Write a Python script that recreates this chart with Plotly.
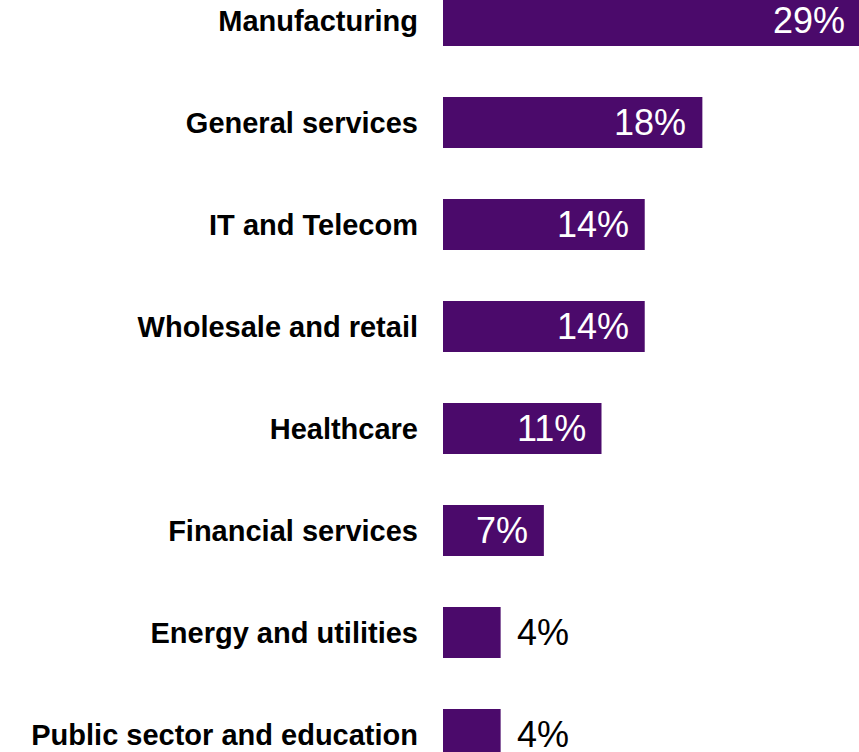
import plotly.graph_objects as go

# Share of respondents by industry
industries = [
    "Manufacturing",
    "General services",
    "IT and Telecom",
    "Wholesale and retail",
    "Healthcare",
    "Financial services",
    "Energy and utilities",
    "Public sector and education",
]
shares = [29, 18, 14, 14, 11, 7, 4, 4]
labels = [f"{v}%" for v in shares]

BAR_COLOR = "#4b0a6b"
FONT = "Liberation Sans, Arial, sans-serif"
X_MAX = 28.87

fig = go.Figure(
    go.Bar(
        x=shares,
        y=industries,
        orientation="h",
        width=0.5,
        marker=dict(color=BAR_COLOR, line=dict(width=0)),
        hoverinfo="skip",
    )
)

# Value labels: inside the bar end when there is room, just outside otherwise.
# Horizontal position is given in paper units so a bar running past the
# axis end still gets its label.
for name, v, lab in zip(industries, shares, labels):
    inside = v >= 6
    fig.add_annotation(
        x=v / X_MAX,
        xref="paper",
        y=name,
        yref="y",
        text=lab,
        showarrow=False,
        xanchor="right" if inside else "left",
        yanchor="middle",
        xshift=-14 if inside else 14,
        font=dict(family=FONT, size=36, color="white" if inside else "black"),
    )

fig.update_layout(
    width=859,
    height=752,
    margin=dict(l=443, r=0, t=0, b=0),
    paper_bgcolor="white",
    plot_bgcolor="white",
    showlegend=False,
    bargap=0.5,
)
fig.update_xaxes(
    range=[0, X_MAX],
    visible=False,
    showgrid=False,
    zeroline=False,
)
fig.update_yaxes(
    categoryorder="array",
    categoryarray=industries,
    range=[7.172, -0.201],
    showgrid=False,
    zeroline=False,
    showline=False,
    ticks="",
    ticklabelstandoff=24,
    tickfont=dict(family=FONT, size=29, color="black", weight="bold"),
)

fig.write_html("out.html")
